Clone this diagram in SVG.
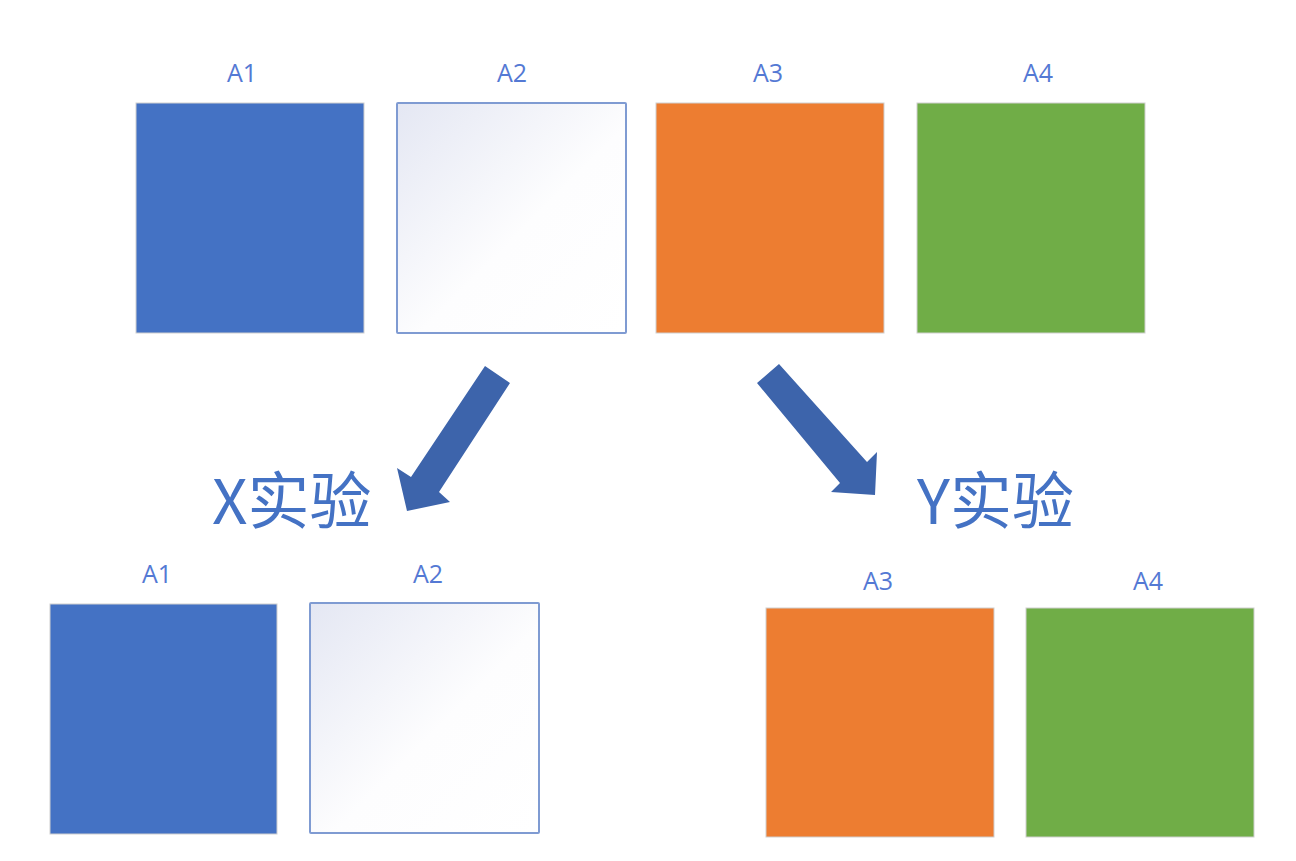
<svg xmlns="http://www.w3.org/2000/svg" width="1296" height="861" viewBox="0 0 1296 861">
<defs>
<linearGradient id="lav" x1="0" y1="0" x2="1" y2="1">
<stop offset="0" stop-color="#E4E7F3"/>
<stop offset="0.55" stop-color="#FDFDFE"/>
<stop offset="1" stop-color="#FFFFFF"/>
</linearGradient>
<style>
.lbl{font-family:"Open Sans","Noto Sans","Noto Sans CJK SC",sans-serif;font-size:25px;fill:#5479D4;text-anchor:middle}
.big{font-family:"Noto Sans CJK SC","Noto Sans",sans-serif;font-size:62px;fill:#4472C4}
.blue{fill:#4472C4;stroke:#CFCFCF;stroke-width:1}
.white{fill:url(#lav);stroke:#7F9BD2;stroke-width:2}
.orange{fill:#ED7D31;stroke:#CFCFCF;stroke-width:1}
.green{fill:#70AD47;stroke:#CFCFCF;stroke-width:1}
.arrow{fill:#3D64AB}
</style>
</defs>
<rect width="1296" height="861" fill="#FFFFFF"/>
<g id="top-A1"><rect class="blue" x="136" y="103" width="228" height="230"/><text class="lbl" x="242" y="82">A1</text></g>
<g id="top-A2"><rect class="white" x="397" y="103" width="229" height="230" rx="1"/><text class="lbl" x="512" y="82">A2</text></g>
<g id="top-A3"><rect class="orange" x="656" y="103" width="228" height="230"/><text class="lbl" x="768" y="82">A3</text></g>
<g id="top-A4"><rect class="green" x="917" y="103" width="228" height="230"/><text class="lbl" x="1038" y="82">A4</text></g>
<g id="connectors">
<polygon class="arrow" points="485,366 510,383 439,492 450,502 407,511 397,468 411,477"/>
<polygon class="arrow" points="779,364 757,383 840,483 831,492 875,495 877,452 867,462"/>
</g>
<g id="label-X"><text class="big" x="212" y="524">X实验</text></g>
<g id="label-Y"><text class="big" x="917" y="524">Y实验</text></g>
<g id="bot-A1"><rect class="blue" x="50" y="604" width="227" height="230"/><text class="lbl" x="157" y="583">A1</text></g>
<g id="bot-A2"><rect class="white" x="310" y="603" width="229" height="230" rx="1"/><text class="lbl" x="428" y="583">A2</text></g>
<g id="bot-A3"><rect class="orange" x="766" y="608" width="228" height="229"/><text class="lbl" x="878" y="590">A3</text></g>
<g id="bot-A4"><rect class="green" x="1026" y="608" width="228" height="229"/><text class="lbl" x="1148" y="590">A4</text></g>
</svg>
